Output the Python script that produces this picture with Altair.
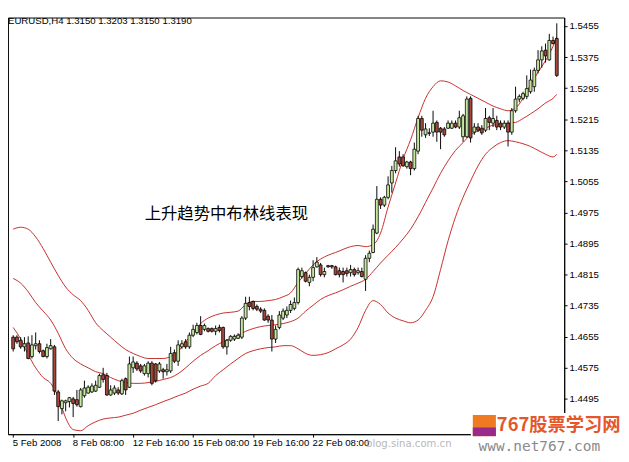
import altair as alt
import pandas as pd

# ---------------- data (EURUSD H4 candles) ----------------
opens = [1.4654, 1.4654, 1.4646, 1.4629, 1.4639, 1.4604, 1.4632, 1.4637, 1.4619, 1.4604,
         1.4624, 1.4629, 1.4513, 1.4470, 1.4485, 1.4488, 1.4495, 1.4493, 1.4475, 1.4503,
         1.4510, 1.4513, 1.4515, 1.4525, 1.4557, 1.4555, 1.4505, 1.4510, 1.4518, 1.4508,
         1.4547, 1.4525, 1.4575, 1.4587, 1.4580, 1.4560, 1.4560, 1.4587, 1.4585, 1.4567,
         1.4570, 1.4565, 1.4567, 1.4614, 1.4592, 1.4629, 1.4642, 1.4629, 1.4659, 1.4666,
         1.4684, 1.4674, 1.4676, 1.4676, 1.4669, 1.4679, 1.4679, 1.4629, 1.4646, 1.4649,
         1.4651, 1.4654, 1.4703, 1.4743, 1.4746, 1.4733, 1.4726, 1.4723, 1.4708, 1.4698,
         1.4649, 1.4679, 1.4703, 1.4711, 1.4723, 1.4728, 1.4743, 1.4810, 1.4820, 1.4795,
         1.4808, 1.4835, 1.4840, 1.4815, 1.4838, 1.4838, 1.4835, 1.4825, 1.4823, 1.4825,
         1.4820, 1.4828, 1.4820, 1.4823, 1.4803, 1.4857, 1.4872, 1.4922, 1.5009, 1.4994,
         1.5014, 1.5051, 1.5083, 1.5118, 1.5118, 1.5093, 1.5105, 1.5088, 1.5133, 1.5217,
         1.5175, 1.5180, 1.5182, 1.5207, 1.5192, 1.5190, 1.5192, 1.5192, 1.5205, 1.5195,
         1.5170, 1.5170, 1.5269, 1.5182, 1.5195, 1.5192, 1.5187, 1.5219, 1.5205, 1.5212,
         1.5205, 1.5195, 1.5205, 1.5182, 1.5237, 1.5267, 1.5269, 1.5274, 1.5286, 1.5299,
         1.5341, 1.5368, 1.5393, 1.5368, 1.5418, 1.5423]
highs = [1.4659, 1.4659, 1.4654, 1.4654, 1.4656, 1.4659, 1.4666, 1.4646, 1.4622, 1.4637,
         1.4649, 1.4634, 1.4518, 1.4493, 1.4493, 1.4500, 1.4500, 1.4518, 1.4523, 1.4542,
         1.4530, 1.4535, 1.4542, 1.4560, 1.4575, 1.4562, 1.4530, 1.4530, 1.4525, 1.4547,
         1.4550, 1.4604, 1.4604, 1.4592, 1.4585, 1.4585, 1.4592, 1.4592, 1.4587, 1.4590,
         1.4575, 1.4585, 1.4629, 1.4622, 1.4646, 1.4646, 1.4649, 1.4666, 1.4686, 1.4691,
         1.4708, 1.4689, 1.4679, 1.4679, 1.4684, 1.4686, 1.4681, 1.4649, 1.4659, 1.4661,
         1.4664, 1.4708, 1.4758, 1.4758, 1.4748, 1.4738, 1.4731, 1.4728, 1.4713, 1.4711,
         1.4684, 1.4721, 1.4728, 1.4733, 1.4748, 1.4756, 1.4833, 1.4833, 1.4823, 1.4815,
         1.4852, 1.4860, 1.4845, 1.4833, 1.4840, 1.4840, 1.4838, 1.4833, 1.4833, 1.4833,
         1.4840, 1.4833, 1.4833, 1.4833, 1.4865, 1.4877, 1.4944, 1.5043, 1.5014, 1.5018,
         1.5068, 1.5095, 1.5143, 1.5133, 1.5125, 1.5108, 1.5108, 1.5155, 1.5224, 1.5224,
         1.5205, 1.5192, 1.5237, 1.5212, 1.5195, 1.5195, 1.5212, 1.5212, 1.5212, 1.5237,
         1.5229, 1.5274, 1.5274, 1.5205, 1.5205, 1.5200, 1.5244, 1.5224, 1.5244, 1.5224,
         1.5212, 1.5212, 1.5212, 1.5244, 1.5299, 1.5279, 1.5286, 1.5328, 1.5343, 1.5348,
         1.5393, 1.5403, 1.5410, 1.5435, 1.5428, 1.5462]
lows = [1.4617, 1.4637, 1.4624, 1.4617, 1.4597, 1.4599, 1.4622, 1.4612, 1.4602, 1.4599,
        1.4622, 1.4505, 1.4438, 1.4455, 1.4463, 1.4473, 1.4448, 1.4475, 1.4473, 1.4498,
        1.4508, 1.4510, 1.4513, 1.4523, 1.4537, 1.4503, 1.4503, 1.4505, 1.4505, 1.4505,
        1.4505, 1.4523, 1.4562, 1.4567, 1.4562, 1.4555, 1.4550, 1.4530, 1.4537, 1.4562,
        1.4547, 1.4555, 1.4562, 1.4587, 1.4580, 1.4624, 1.4624, 1.4624, 1.4654, 1.4661,
        1.4659, 1.4669, 1.4666, 1.4666, 1.4659, 1.4666, 1.4624, 1.4609, 1.4642, 1.4644,
        1.4649, 1.4649, 1.4698, 1.4723, 1.4723, 1.4721, 1.4716, 1.4696, 1.4691, 1.4617,
        1.4639, 1.4674, 1.4698, 1.4703, 1.4716, 1.4723, 1.4738, 1.4805, 1.4795, 1.4785,
        1.4798, 1.4833, 1.4810, 1.4808, 1.4833, 1.4830, 1.4813, 1.4808, 1.4795, 1.4810,
        1.4810, 1.4810, 1.4815, 1.4808, 1.4773, 1.4847, 1.4870, 1.4919, 1.4984, 1.4989,
        1.5009, 1.5026, 1.5076, 1.5093, 1.5093, 1.5088, 1.5071, 1.5083, 1.5125, 1.5170,
        1.5167, 1.5172, 1.5170, 1.5157, 1.5138, 1.5170, 1.5190, 1.5190, 1.5192, 1.5190,
        1.5157, 1.5167, 1.5155, 1.5175, 1.5182, 1.5175, 1.5182, 1.5187, 1.5195, 1.5187,
        1.5187, 1.5190, 1.5145, 1.5175, 1.5232, 1.5259, 1.5264, 1.5267, 1.5281, 1.5286,
        1.5333, 1.5348, 1.5361, 1.5366, 1.5408, 1.5324]
closes = [1.4624, 1.4642, 1.4629, 1.4637, 1.4599, 1.4634, 1.4637, 1.4617, 1.4604, 1.4627,
          1.4632, 1.4515, 1.4475, 1.4490, 1.4490, 1.4498, 1.4483, 1.4480, 1.4518, 1.4523,
          1.4525, 1.4528, 1.4530, 1.4555, 1.4545, 1.4505, 1.4518, 1.4523, 1.4510, 1.4542,
          1.4518, 1.4585, 1.4590, 1.4572, 1.4567, 1.4580, 1.4587, 1.4535, 1.4542, 1.4585,
          1.4565, 1.4570, 1.4612, 1.4592, 1.4634, 1.4637, 1.4629, 1.4659, 1.4674, 1.4684,
          1.4661, 1.4684, 1.4669, 1.4669, 1.4676, 1.4671, 1.4629, 1.4646, 1.4656, 1.4656,
          1.4659, 1.4703, 1.4741, 1.4733, 1.4728, 1.4726, 1.4721, 1.4698, 1.4698, 1.4649,
          1.4674, 1.4711, 1.4721, 1.4723, 1.4738, 1.4743, 1.4828, 1.4825, 1.4798, 1.4808,
          1.4833, 1.4847, 1.4815, 1.4823, 1.4835, 1.4835, 1.4815, 1.4815, 1.4815, 1.4818,
          1.4828, 1.4815, 1.4825, 1.4810, 1.4857, 1.4870, 1.4932, 1.5009, 1.4994, 1.5014,
          1.5046, 1.5083, 1.5108, 1.5100, 1.5095, 1.5105, 1.5088, 1.5138, 1.5217, 1.5187,
          1.5190, 1.5179, 1.5205, 1.5182, 1.5182, 1.5175, 1.5205, 1.5205, 1.5195, 1.5219,
          1.5224, 1.5267, 1.5167, 1.5195, 1.5187, 1.5180, 1.5217, 1.5207, 1.5217, 1.5195,
          1.5195, 1.5205, 1.5182, 1.5237, 1.5267, 1.5274, 1.5281, 1.5294, 1.5316, 1.5341,
          1.5368, 1.5391, 1.5378, 1.5418, 1.5410, 1.5328]

# Bollinger bands, read every second bar (plus the last bar)
band_idx = list(range(0, 145, 2)) + [145]
upper = [1.4932, 1.4937, 1.4932, 1.4912, 1.4882, 1.4847, 1.4813, 1.4783, 1.4763, 1.4748,
         1.4723, 1.4691, 1.4671, 1.4654, 1.4637, 1.4622, 1.4612, 1.4604, 1.4599, 1.4599,
         1.4599, 1.4604, 1.4617, 1.4642, 1.4664, 1.4689, 1.4703, 1.4711, 1.4716, 1.4718,
         1.4721, 1.4738, 1.4746, 1.4746, 1.4748, 1.4751, 1.4758, 1.4768, 1.4795, 1.4818,
         1.4840, 1.4855, 1.4865, 1.4872, 1.4880, 1.4887, 1.4890, 1.4887, 1.4892, 1.4922,
         1.4989, 1.5051, 1.5113, 1.5162, 1.5219, 1.5269, 1.5299, 1.5314, 1.5311, 1.5301,
         1.5289, 1.5279, 1.5269, 1.5259, 1.5249, 1.5242, 1.5237, 1.5244, 1.5269, 1.5304,
         1.5336, 1.5366, 1.5403, 1.5428]
middle = [1.4805, 1.4793, 1.4771, 1.4743, 1.4721, 1.4698, 1.4664, 1.4624, 1.4599, 1.4585,
          1.4575, 1.4565, 1.4560, 1.4550, 1.4542, 1.4537, 1.4535, 1.4535, 1.4537, 1.4540,
          1.4545, 1.4550, 1.4560, 1.4575, 1.4592, 1.4607, 1.4619, 1.4632, 1.4642, 1.4651,
          1.4659, 1.4669, 1.4676, 1.4681, 1.4684, 1.4686, 1.4689, 1.4694, 1.4703, 1.4721,
          1.4736, 1.4751, 1.4761, 1.4768, 1.4776, 1.4785, 1.4793, 1.4803, 1.4823, 1.4845,
          1.4865, 1.4885, 1.4907, 1.4932, 1.4964, 1.5001, 1.5038, 1.5076, 1.5108, 1.5135,
          1.5155, 1.5175, 1.5185, 1.5192, 1.5200, 1.5202, 1.5205, 1.5207, 1.5217, 1.5229,
          1.5242, 1.5257, 1.5269, 1.5279]
lower = [1.4679, 1.4649, 1.4609, 1.4575, 1.4550, 1.4535, 1.4500, 1.4446, 1.4416, 1.4413,
         1.4426, 1.4436, 1.4443, 1.4446, 1.4448, 1.4453, 1.4458, 1.4466, 1.4473, 1.4480,
         1.4488, 1.4495, 1.4503, 1.4510, 1.4520, 1.4528, 1.4535, 1.4555, 1.4570, 1.4585,
         1.4599, 1.4612, 1.4619, 1.4624, 1.4627, 1.4629, 1.4632, 1.4632, 1.4624, 1.4612,
         1.4607, 1.4609, 1.4614, 1.4624, 1.4634, 1.4649, 1.4679, 1.4723, 1.4748, 1.4738,
         1.4716, 1.4703, 1.4696, 1.4691, 1.4698, 1.4723, 1.4758, 1.4828, 1.4902, 1.4964,
         1.5014, 1.5056, 1.5095, 1.5125, 1.5143, 1.5155, 1.5160, 1.5157, 1.5152, 1.5145,
         1.5135, 1.5125, 1.5118, 1.5125]

# visible time labels (the later ones are hidden under the watermark in the source)
tick_idx = [0, 16, 32, 48, 64, 80]
tick_labels = ["5 Feb 2008", "8 Feb 08:00", "12 Feb 16:00", "15 Feb 08:00",
               "19 Feb 16:00", "22 Feb 08:00"]
price_ticks = [1.4495, 1.4575, 1.4655, 1.4735, 1.4815, 1.4895, 1.4975,
               1.5055, 1.5135, 1.5215, 1.5295, 1.5375, 1.5455]

header_text = "EURUSD,H4  1.3150 1.3203 1.3150 1.3190"
note_text = "上升趋势中布林线表现"

# ---------------- tables ----------------
candles = pd.DataFrame({"idx": list(range(len(opens))), "open": opens, "high": highs,
                        "low": lows, "close": closes})
candles["dir"] = ["up" if c >= o else "down" for o, c in zip(opens, closes)]

bands = pd.concat([
    pd.DataFrame({"idx": band_idx, "value": upper, "band": "upper"}),
    pd.DataFrame({"idx": band_idx, "value": middle, "band": "middle"}),
    pd.DataFrame({"idx": band_idx, "value": lower, "band": "lower"}),
])

FONT = "Liberation Sans"
label_expr = " : ".join(
    f"datum.value == {i} ? '{t}'" for i, t in zip(tick_idx, tick_labels)) + " : ''"

x_scale = alt.Scale(domain=[-0.1, 145.7], nice=False, zero=False)
y_scale = alt.Scale(domain=[1.4404, 1.5477], nice=False, zero=False)
x_axis = alt.Axis(values=tick_idx, labelExpr=label_expr, title=None, grid=False,
                  labelAlign="left", labelPadding=1, labelOffset=-1, tickSize=3,
                  labelFont=FONT, labelFontSize=10, labelColor="black",
                  tickColor="black", domainColor="black", labelOverlap=False,
                  labelFlush=False)
y_axis = alt.Axis(orient="right", values=price_ticks, format=".4f", title=None,
                  grid=False, tickSize=3, labelPadding=2, labelFont=FONT,
                  labelFontSize=10, labelColor="black", tickColor="black",
                  domainColor="black", labelOverlap=False, labelFlush=False)

base = alt.Chart(candles)
wicks = base.mark_rule(color="black", strokeWidth=1, clip=True).encode(
    x=alt.X("idx:Q", scale=x_scale, axis=x_axis),
    y=alt.Y("low:Q", scale=y_scale, axis=y_axis),
    y2="high:Q",
)
bodies = base.mark_bar(size=3, stroke="black", strokeWidth=0.8, clip=True).encode(
    x=alt.X("idx:Q", scale=x_scale, axis=x_axis),
    y=alt.Y("open:Q", scale=y_scale, axis=y_axis),
    y2="close:Q",
    color=alt.Color("dir:N", scale=alt.Scale(domain=["up", "down"],
                                             range=["#c6e89e", "#a9473a"]), legend=None),
)
band_lines = alt.Chart(bands).mark_line(color="#c62a25", strokeWidth=1, clip=True,
                                        interpolate="monotone").encode(
    x=alt.X("idx:Q", scale=x_scale, axis=x_axis),
    y=alt.Y("value:Q", scale=y_scale, axis=y_axis),
    detail="band:N",
)

header = alt.Chart(pd.DataFrame({"t": [header_text]})).mark_text(
    align="left", baseline="middle", font=FONT, fontSize=10, color="black").encode(
    x=alt.value(0), y=alt.value(4), text="t:N")
note = alt.Chart(pd.DataFrame({"t": [note_text]})).mark_text(
    align="left", baseline="middle", font="Noto Sans CJK SC", fontSize=17,
    color="black").encode(x=alt.value(142), y=alt.value(204), text="t:N")

# watermark / logo area (bottom right)
logo_bg = alt.Chart(pd.DataFrame({"a": [0]})).mark_rect(color="white").encode(
    x=alt.value(481), x2=alt.value(622), y=alt.value(411), y2=alt.value(454))
logo_icon = alt.Chart(pd.DataFrame({"a": [0]})).mark_rect(color="#f07a22").encode(
    x=alt.value(483), x2=alt.value(507), y=alt.value(413), y2=alt.value(435))
logo_icon2 = alt.Chart(pd.DataFrame({"a": [0]})).mark_rect(color="#9a2a8a").encode(
    x=alt.value(483), x2=alt.value(507), y=alt.value(426), y2=alt.value(435))
logo_text = alt.Chart(pd.DataFrame({"t": ["767股票学习网"]})).mark_text(
    align="left", baseline="middle", font="Noto Sans CJK SC", fontSize=19,
    fontWeight="bold", color="#e4572a").encode(x=alt.value(508), y=alt.value(424), text="t:N")
logo_url = alt.Chart(pd.DataFrame({"t": ["www.net767.com"]})).mark_text(
    align="left", baseline="middle", font="DejaVu Sans Mono", fontSize=15,
    color="#8a8a8a").encode(x=alt.value(489), y=alt.value(445), text="t:N")
blog_mark = alt.Chart(pd.DataFrame({"t": ["blog.sina.com.cn"]})).mark_text(
    align="left", baseline="middle", font="DejaVu Sans", fontSize=10.5,
    color="#9a9a9a", opacity=0.7).encode(x=alt.value(372), y=alt.value(443), text="t:N")

chart = alt.layer(
    band_lines, wicks, bodies, header, note, logo_bg, logo_icon, logo_icon2,
    logo_text, logo_url, blog_mark
).properties(
    width=578, height=433, padding=0, background="white"
).configure_view(stroke="black", strokeWidth=1)

chart.save("out.html", embed_options={"renderer": "svg", "actions": False})
